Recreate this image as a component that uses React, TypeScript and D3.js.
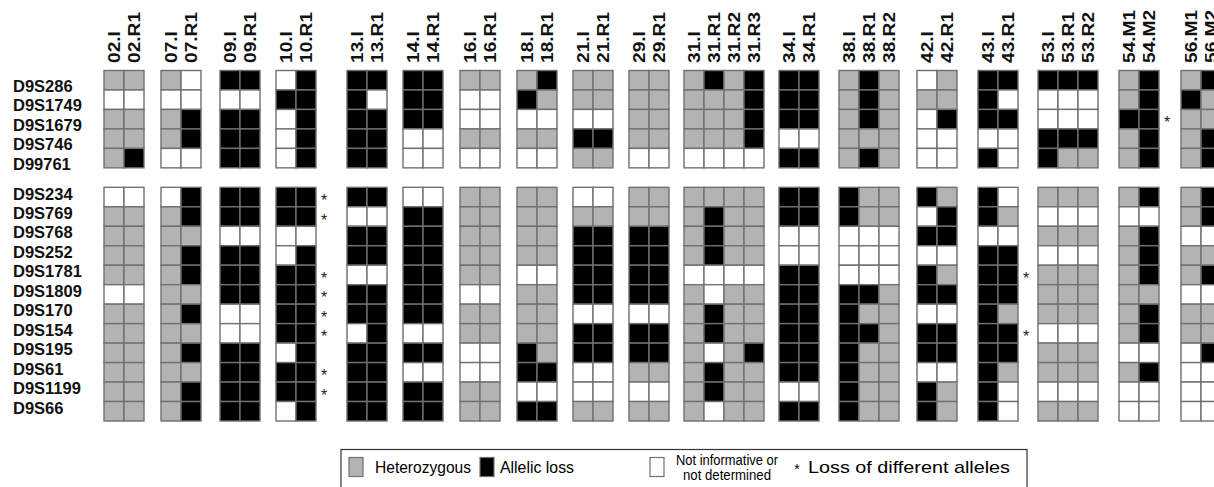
import * as d3 from 'd3'
import { useEffect, useRef } from 'react'

// loci, top block (short arm region) and bottom block
const topMarkers = ['D9S286', 'D9S1749', 'D9S1679', 'D9S746', 'D99761']
const bottomMarkers = [
  'D9S234', 'D9S769', 'D9S768', 'D9S252', 'D9S1781', 'D9S1809',
  'D9S170', 'D9S154', 'D9S195', 'D9S61', 'D9S1199', 'D9S66',
]

// G = heterozygous, B = allelic loss, W = not informative / not determined
// one string per marker (top 5 then bottom 12), one char per sample
const case02 = ['GG', 'WW', 'GG', 'GG', 'GB', 'WW', 'GG', 'GG', 'GG', 'GG', 'WW', 'GG', 'GG', 'GG', 'GG', 'GG', 'GG']
const case07 = ['GW', 'WW', 'GB', 'GB', 'WW', 'WB', 'GB', 'GG', 'GB', 'GB', 'GG', 'GB', 'GG', 'GB', 'GG', 'GB', 'GB']
const case09 = ['BB', 'WW', 'BB', 'BB', 'BB', 'BB', 'BB', 'WW', 'BB', 'BB', 'BB', 'WW', 'WW', 'BB', 'BB', 'BB', 'BB']
const case10 = ['WB', 'BB', 'WB', 'WB', 'WB', 'BB', 'BB', 'WW', 'WB', 'BB', 'BB', 'BB', 'BB', 'WB', 'BB', 'BB', 'WB']
const case13 = ['BB', 'BW', 'BB', 'BB', 'BB', 'BB', 'WW', 'BB', 'BB', 'WW', 'BB', 'BB', 'WB', 'BB', 'BB', 'BB', 'BB']
const case14 = ['BB', 'BB', 'BB', 'WW', 'WW', 'WW', 'BB', 'BB', 'BB', 'BB', 'BB', 'BB', 'WW', 'BB', 'WW', 'BB', 'BB']
const case16 = ['GG', 'WW', 'WW', 'GG', 'WW', 'GG', 'GG', 'GG', 'GG', 'GG', 'WW', 'GG', 'GG', 'WW', 'WW', 'GG', 'GG']
const case18 = ['GB', 'BG', 'WW', 'GG', 'WW', 'GG', 'GG', 'GG', 'GG', 'WW', 'GG', 'GG', 'GG', 'BG', 'BB', 'WW', 'BB']
const case21 = ['GG', 'GG', 'WW', 'BB', 'GG', 'WW', 'GG', 'BB', 'BB', 'BB', 'BB', 'WW', 'BB', 'BB', 'WW', 'WW', 'GG']
const case29 = ['GG', 'GG', 'GG', 'GG', 'WW', 'GG', 'GG', 'BB', 'BB', 'BB', 'BB', 'WW', 'BB', 'BB', 'GG', 'WW', 'GG']
const case31 = ['GBGB', 'GGGB', 'GGGB', 'GGGB', 'WWWW', 'GGGG', 'GBGG', 'GBGG', 'GBGG', 'WWWW', 'GWGG', 'GBGG', 'GBGG', 'GWGB', 'GBGG', 'GBGG', 'GWGG']
const case34 = ['BB', 'BB', 'BB', 'WW', 'BB', 'BB', 'BB', 'WW', 'WW', 'BB', 'BB', 'BB', 'BB', 'BB', 'BB', 'WW', 'BB']
const case38 = ['GBG', 'GBG', 'GBG', 'GGG', 'GBG', 'BGG', 'BGG', 'WWW', 'WWW', 'WWW', 'BBG', 'BGG', 'BBG', 'BGG', 'BGG', 'BGG', 'BGG']
const case42 = ['WG', 'GG', 'WB', 'WW', 'WW', 'BG', 'WB', 'BB', 'WW', 'BG', 'BB', 'WW', 'BB', 'BB', 'WW', 'BG', 'BG']
const case43 = ['BB', 'BW', 'BB', 'WW', 'BW', 'BW', 'BG', 'WW', 'BB', 'BB', 'BB', 'BG', 'BB', 'BB', 'BG', 'BW', 'BW']
const case53 = ['BBB', 'WWW', 'WWW', 'BBB', 'BGG', 'GGG', 'WWW', 'GGG', 'WWW', 'GGG', 'GGG', 'GGG', 'WWW', 'GGG', 'GGG', 'WWW', 'GGG']
const case54 = ['GB', 'GB', 'BB', 'GB', 'GB', 'GB', 'WW', 'GB', 'GB', 'GB', 'GG', 'GB', 'GB', 'WW', 'GB', 'WW', 'WW']
const case56 = ['GB', 'BG', 'GG', 'GB', 'GB', 'GB', 'GB', 'WW', 'GG', 'GB', 'WW', 'GG', 'GG', 'WB', 'WW', 'WW', 'WW']

const caseIds = ['02', '07', '09', '10', '13', '14', '16', '18', '21', '29', '31', '34', '38', '42', '43', '53', '54', '56']
const sampleSuffixes = [
  ['I', 'R1'], ['I', 'R1'], ['I', 'R1'], ['I', 'R1'], ['I', 'R1'], ['I', 'R1'],
  ['I', 'R1'], ['I', 'R1'], ['I', 'R1'], ['I', 'R1'], ['I', 'R1', 'R2', 'R3'],
  ['I', 'R1'], ['I', 'R1', 'R2'], ['I', 'R1'], ['I', 'R1'], ['I', 'R1', 'R2'],
  ['M1', 'M2'], ['M1', 'M2'],
]
const caseCalls = [case02, case07, case09, case10, case13, case14, case16, case18, case21,
  case29, case31, case34, case38, case42, case43, case53, case54, case56]

// loss of different alleles
const stars10 = ['D9S234', 'D9S769', 'D9S1781', 'D9S1809', 'D9S170', 'D9S154', 'D9S61', 'D9S1199']
const stars43 = ['D9S1781', 'D9S154']
const stars54 = ['D9S1679']

const legendItems = ['Heterozygous', 'Allelic loss', 'Not informative or|not determined']
const legendNote = 'Loss of different alleles'

// layout
const W = 1214
const H = 487
const cellW = 20
const left0 = 104
const groupGaps = [0, 17, 19, 16, 31, 16, 17, 17, 16, 16, 15, 15, 20, 18, 21, 20, 21, 22]
const fills: Record<string, string> = { G: '#b3b3b3', B: '#000000', W: '#ffffff' }
const stroke = '#707070'
const font = 'Liberation Sans, Arial, sans-serif'

const App = () => {
  const ref = useRef<SVGSVGElement>(null)

  useEffect(() => {
    const svg = d3.select(ref.current)
    svg.selectAll('*').remove()

    const allMarkers = [...topMarkers, 'gap', ...bottomMarkers]
    const y = d3.scaleBand<string>().domain(allMarkers).range([70.5, 421])
    const markers = [...topMarkers, ...bottomMarkers]

    // columns
    const cases = caseIds.map((id, i) => ({
      id,
      samples: sampleSuffixes[i].map((s) => `${id}.${s}`),
      calls: caseCalls[i],
    }))
    const colX: number[] = []
    let cur = left0
    cases.forEach((c, i) => {
      cur += groupGaps[i]
      c.samples.forEach(() => {
        colX.push(cur)
        cur += cellW
      })
    })
    const allSamples = cases.flatMap((c) => c.samples)
    const x = d3.scaleOrdinal<string, number>().domain(allSamples).range(colX)

    const cells = cases.flatMap((c) =>
      markers.flatMap((m, r) =>
        c.samples.map((s, k) => ({ sample: s, marker: m, v: c.calls[r][k] }))
      )
    )

    svg
      .append('g')
      .selectAll('rect')
      .data(cells)
      .join('rect')
      .attr('x', (d) => x(d.sample))
      .attr('y', (d) => y(d.marker)!)
      .attr('width', cellW)
      .attr('height', y.bandwidth())
      .attr('fill', (d) => fills[d.v])
      .attr('stroke', stroke)
      .attr('stroke-width', 1.4)

    // sample labels
    svg
      .append('g')
      .selectAll('text')
      .data(allSamples)
      .join('text')
      .attr('transform', (d) => `translate(${x(d) + cellW / 2 + 0.5},63) rotate(-90) scale(1.16,1)`)
      .attr('dy', '0.36em')
      .attr('font-family', font)
      .attr('font-weight', 'bold')
      .attr('font-size', 16.5)
      .attr('fill', '#111')
      .text((d) => d)

    // marker labels
    svg
      .append('g')
      .selectAll('text')
      .data(markers)
      .join('text')
      .attr('x', 13)
      .attr('y', (d) => y(d)! + y.bandwidth() / 2 + (topMarkers.includes(d) ? 5.5 : -3.5))
      .attr('dy', '0.36em')
      .attr('font-family', font)
      .attr('font-weight', 'bold')
      .attr('font-size', 16.5)
      .attr('fill', '#111')
      .text((d) => d)

    // asterisks
    const starList = [
      ...stars10.map((m) => ({ id: '10', m })),
      ...stars43.map((m) => ({ id: '43', m })),
      ...stars54.map((m) => ({ id: '54', m })),
    ]
    svg
      .append('g')
      .selectAll('text')
      .data(starList)
      .join('text')
      .attr('x', (d) => {
        const c = cases.find((cc) => cc.id === d.id)!
        return x(c.samples[c.samples.length - 1]) + cellW + 8
      })
      .attr('y', (d) => y(d.m)! + y.bandwidth() / 2 + 9)
      .attr('text-anchor', 'middle')
      .attr('font-family', font)
      .attr('font-size', 16)
      .attr('fill', '#222')
      .text('*')

    // legend
    const lg = svg.append('g')
    lg.append('rect')
      .attr('x', 341)
      .attr('y', 449.5)
      .attr('width', 686)
      .attr('height', 50)
      .attr('fill', '#fff')
      .attr('stroke', '#333')
      .attr('stroke-width', 1.2)

    const swX = [349, 480, 650]
    const txtX = [375, 500, 676]
    const txtLen = [96, 74, 102]
    const legendFills = [fills.G, fills.B, fills.W]
    legendItems.forEach((label, i) => {
      lg.append('rect')
        .attr('x', swX[i])
        .attr('y', 457.5)
        .attr('width', 14)
        .attr('height', 19)
        .attr('fill', legendFills[i])
        .attr('stroke', stroke)
        .attr('stroke-width', 1.2)
      const lines = label.split('|')
      if (lines.length === 1) {
        lg.append('text')
          .attr('x', txtX[i])
          .attr('y', 467)
          .attr('dy', '0.36em')
          .attr('font-family', font)
          .attr('font-size', 17)
          .attr('textLength', txtLen[i])
          .attr('lengthAdjust', 'spacingAndGlyphs')
          .text(label)
      } else {
        lines.forEach((ln, j) => {
          lg.append('text')
            .attr('x', txtX[i] + txtLen[i] / 2)
            .attr('y', 460 + j * 15)
            .attr('dy', '0.36em')
            .attr('text-anchor', 'middle')
            .attr('font-family', font)
            .attr('font-size', 15)
            .attr('textLength', j === 0 ? txtLen[i] : 88)
            .attr('lengthAdjust', 'spacingAndGlyphs')
            .text(ln)
        })
      }
    })
    lg.append('text')
      .attr('x', 797)
      .attr('y', 474)
      .attr('text-anchor', 'middle')
      .attr('font-family', font)
      .attr('font-size', 14)
      .text('*')
    lg.append('text')
      .attr('x', 808)
      .attr('y', 467)
      .attr('dy', '0.36em')
      .attr('font-family', font)
      .attr('font-size', 17)
      .attr('textLength', 202)
      .attr('lengthAdjust', 'spacingAndGlyphs')
      .text(legendNote)
  }, [])

  return (
    <svg
      ref={ref}
      width={W}
      height={H}
      style={{ position: 'absolute', left: 0, top: 0, display: 'block', background: '#fff' }}
    />
  )
}

export default App
